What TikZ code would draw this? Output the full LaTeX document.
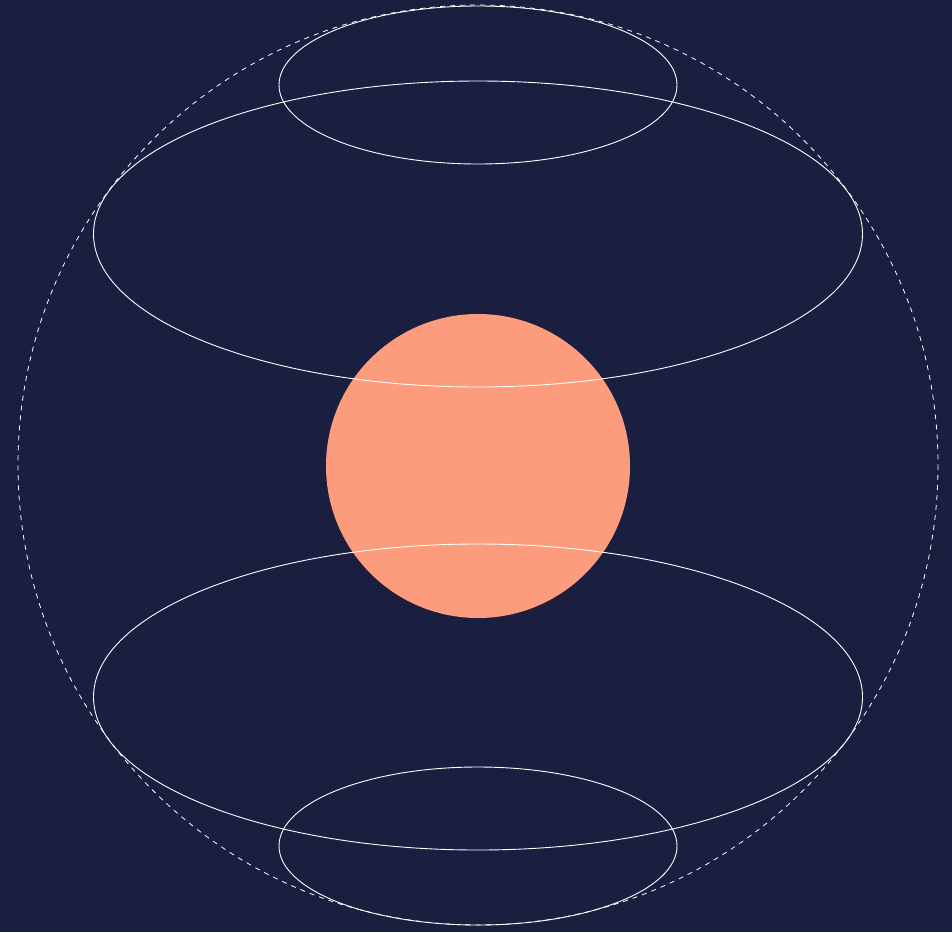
\documentclass[tikz,border=0pt]{standalone}
\definecolor{bgnavy}{HTML}{1A1E3F}
\definecolor{sunorange}{HTML}{FD9C7C}
\begin{document}
\begin{tikzpicture}[x=1pt,y=-1pt,
  ring/.style={draw=white,line width=0.9pt},
  guide/.style={draw=white,line width=0.8pt,dash pattern=on 5pt off 5pt}]
\fill[bgnavy] (0,0) rectangle (952,932);
\useasboundingbox (0,0) rectangle (952,932);
\node[circle,fill=sunorange,minimum size=304pt,inner sep=0pt] (core) at (478,466) {};
\draw[guide] (478,465) circle [radius=460];
\draw[ring] (478,85) ellipse [x radius=199, y radius=79];
\draw[ring] (478,234) ellipse [x radius=384.5, y radius=153];
\draw[ring] (478,697) ellipse [x radius=384.5, y radius=153];
\draw[ring] (478,846) ellipse [x radius=199, y radius=79];
\end{tikzpicture}
\end{document}
